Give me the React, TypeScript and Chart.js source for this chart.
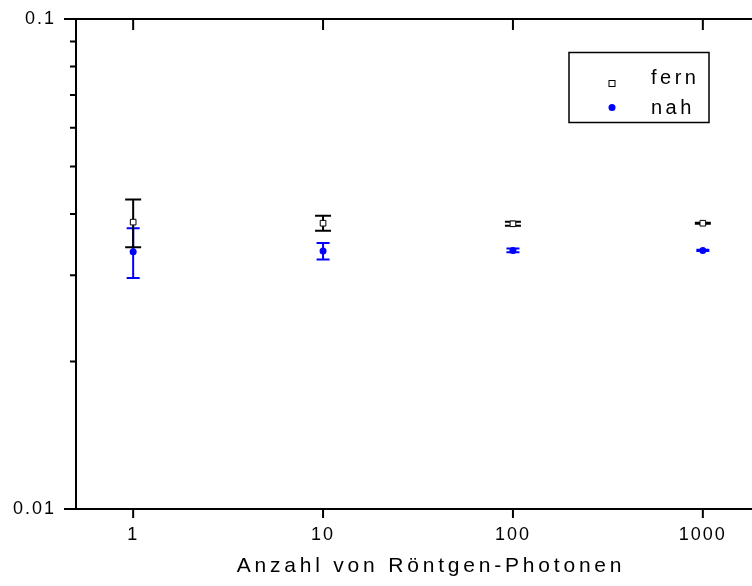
import React, { useEffect, useRef } from 'react';
import { Chart, registerables } from 'chart.js';

Chart.register(...registerables);

// Measured points: photon count vs. value, with symmetric error bars
const photons = [1, 10, 100, 1000];
const fernValues = [0.0385, 0.0383, 0.0382, 0.0383];
const fernErrors = [0.0043, 0.00135, 0.00035, 0.0001];
const nahValues = [0.0335, 0.0336, 0.0337, 0.0337];
const nahErrors = [0.0039, 0.0013, 0.0003, 0.0001];

const seriesLabels = ['fern', 'nah'];
const xTickLabels = ['1', '10', '100', '1000'];
const yTickLabels = ['0.01', '0.1'];
const xAxisTitle = 'Anzahl von Röntgen-Photonen';

const FONT = '"Liberation Sans", Arial, Helvetica, sans-serif';
const BLUE = '#0000ff';
const BLACK = '#000000';
const W = 775;
const H = 586;

const labelFor = (labels: string[]) => (value: number) => {
  const hit = labels.find((l) => Math.abs(Number(l) - value) < Number(l) * 1e-6);
  return hit ?? '';
};

// 1..9 times each power of ten inside [min, max]
const logTickValues = (min: number, max: number) => {
  const out: { value: number; major: boolean }[] = [];
  for (let e = Math.floor(Math.log10(min)); e <= Math.ceil(Math.log10(max)); e++) {
    for (let k = 1; k <= 9; k++) {
      const v = k * Math.pow(10, e);
      if (v >= min * (1 - 1e-9) && v <= max * (1 + 1e-9)) out.push({ value: v, major: k === 1 });
    }
  }
  return out;
};

// Tick labels get a little extra tracking
const trackingPlugin = {
  id: 'tracking',
  beforeDraw(chart: any) {
    chart.ctx.letterSpacing = '2px';
  },
  afterDraw(chart: any) {
    chart.ctx.letterSpacing = '0px';
  },
};

// Vertical error bars with caps, drawn underneath the point markers
const errorBarPlugin = {
  id: 'errorBars',
  beforeDatasetsDraw(chart: any) {
    const { ctx } = chart;
    const xs = chart.scales.x;
    const ys = chart.scales.y;
    const order = [1, 0];
    ctx.save();
    ctx.lineWidth = 2;
    for (const di of order) {
      const ds = chart.data.datasets[di];
      const errs: number[] = ds.errorValues;
      const cap: number = ds.capHalfWidth;
      ctx.strokeStyle = ds.errorColor;
      ds.data.forEach((pt: any, i: number) => {
        const px = xs.getPixelForValue(pt.x);
        const top = ys.getPixelForValue(pt.y + errs[i]);
        const bot = ys.getPixelForValue(pt.y - errs[i]);
        ctx.beginPath();
        ctx.moveTo(px, top);
        ctx.lineTo(px, bot);
        ctx.moveTo(px - cap, top);
        ctx.lineTo(px + cap, top);
        ctx.moveTo(px - cap, bot);
        ctx.lineTo(px + cap, bot);
        ctx.stroke();
      });
    }
    ctx.restore();
  },
};

// Top axis line and tick marks (outward on left/bottom, inward on top)
const framePlugin = {
  id: 'frame',
  afterDraw(chart: any) {
    const { ctx, chartArea } = chart;
    const xs = chart.scales.x;
    const ys = chart.scales.y;
    ctx.save();
    ctx.strokeStyle = BLACK;
    ctx.lineWidth = 2;
    ctx.beginPath();
    ctx.moveTo(chartArea.left - 12, chartArea.top);
    ctx.lineTo(W, chartArea.top);
    for (const t of logTickValues(ys.min, ys.max)) {
      const py = ys.getPixelForValue(t.value);
      const len = t.major ? 12 : 6;
      ctx.moveTo(chartArea.left - len, py);
      ctx.lineTo(chartArea.left, py);
    }
    for (const l of xTickLabels) {
      const px = xs.getPixelForValue(Number(l));
      ctx.moveTo(px, chartArea.bottom);
      ctx.lineTo(px, chartArea.bottom + 9);
      ctx.moveTo(px, chartArea.top);
      ctx.lineTo(px, chartArea.top + 11);
    }
    ctx.stroke();
    ctx.restore();
  },
};

// Axis title below the x tick labels
const axisTitlePlugin = {
  id: 'axisTitle',
  afterDraw(chart: any) {
    const { ctx } = chart;
    ctx.save();
    ctx.letterSpacing = '3.8px';
    ctx.font = `21px ${FONT}`;
    ctx.fillStyle = BLACK;
    ctx.textAlign = 'center';
    ctx.textBaseline = 'middle';
    ctx.fillText(xAxisTitle, 431, 566);
    ctx.restore();
  },
};

// Boxed legend in the upper right of the plot
const legendBoxPlugin = {
  id: 'legendBox',
  afterDraw(chart: any) {
    const { ctx } = chart;
    const left = 569;
    const top = 52.5;
    const width = 140;
    const height = 70;
    ctx.save();
    ctx.strokeStyle = BLACK;
    ctx.lineWidth = 1.5;
    ctx.strokeRect(left, top, width, height);

    const markerX = 612;
    const textX = 651;
    const rows = [
      { markerY: 83.5, baseY: 83.5 },
      { markerY: 107.5, baseY: 113.5 },
    ];
    chart.data.datasets.forEach((ds: any, i: number) => {
      const r = rows[i];
      if (ds.pointStyle === 'rect') {
        ctx.fillStyle = '#ffffff';
        ctx.fillRect(markerX - 3, r.markerY - 3, 6, 6);
        ctx.strokeStyle = BLACK;
        ctx.lineWidth = 1;
        ctx.strokeRect(markerX - 3, r.markerY - 3, 6, 6);
      } else {
        ctx.fillStyle = ds.backgroundColor;
        ctx.beginPath();
        ctx.arc(markerX, r.markerY, 3.5, 0, Math.PI * 2);
        ctx.fill();
      }
      ctx.letterSpacing = '3.5px';
      ctx.font = `20px ${FONT}`;
      ctx.fillStyle = BLACK;
      ctx.textAlign = 'left';
      ctx.textBaseline = 'alphabetic';
      ctx.fillText(ds.label, textX, r.baseY);
    });
    ctx.restore();
  },
};

export default function App() {
  const canvasRef = useRef<HTMLCanvasElement>(null);

  useEffect(() => {
    const canvas = canvasRef.current;
    if (!canvas) return;

    const chart = new Chart(canvas, {
      type: 'scatter',
      data: {
        datasets: [
          {
            label: seriesLabels[0],
            data: photons.map((x, i) => ({ x, y: fernValues[i] })),
            pointStyle: 'rect',
            pointRadius: 4,
            backgroundColor: '#ffffff',
            borderColor: BLACK,
            borderWidth: 1,
            errorValues: fernErrors,
            errorColor: BLACK,
            capHalfWidth: 8,
          } as any,
          {
            label: seriesLabels[1],
            data: photons.map((x, i) => ({ x, y: nahValues[i] })),
            pointStyle: 'circle',
            pointRadius: 3.5,
            backgroundColor: BLUE,
            borderColor: BLUE,
            borderWidth: 0,
            errorValues: nahErrors,
            errorColor: BLUE,
            capHalfWidth: 6.5,
          } as any,
        ],
      },
      options: {
        responsive: false,
        animation: false,
        devicePixelRatio: 1,
        events: [],
        layout: { padding: { left: 0, top: 19, right: W - 760, bottom: 0 } },
        plugins: {
          legend: { display: false },
          tooltip: { enabled: false },
          title: { display: false },
        },
        scales: {
          x: {
            type: 'logarithmic',
            position: 'bottom',
            min: 0.5,
            max: 2000,
            grid: { display: false, drawTicks: false },
            border: { display: true, color: BLACK, width: 2 },
            ticks: {
              autoSkip: false,
              maxRotation: 0,
              minRotation: 0,
              padding: 15,
              color: BLACK,
              font: { family: FONT, size: 18 },
              callback: labelFor(xTickLabels) as any,
            },
            afterFit: (s: any) => {
              s.height = 77;
              s.paddingLeft = 0;
              s.paddingRight = 0;
            },
          },
          y: {
            type: 'logarithmic',
            position: 'left',
            min: 0.01,
            max: 0.1,
            grid: { display: false, drawTicks: false },
            border: { display: true, color: BLACK, width: 2 },
            ticks: {
              autoSkip: false,
              padding: 20,
              color: BLACK,
              font: { family: FONT, size: 18 },
              callback: labelFor(yTickLabels) as any,
            },
            afterFit: (s: any) => {
              s.width = 76;
              s.paddingTop = 0;
              s.paddingBottom = 0;
            },
          },
        },
      },
      plugins: [trackingPlugin, errorBarPlugin, framePlugin, axisTitlePlugin, legendBoxPlugin],
    });

    return () => chart.destroy();
  }, []);

  return (
    <div
      style={{
        position: 'absolute',
        left: 0,
        top: 0,
        width: 752,
        height: 586,
        overflow: 'hidden',
        background: '#ffffff',
      }}
    >
      <canvas ref={canvasRef} width={W} height={H} style={{ display: 'block', width: W, height: H }} />
    </div>
  );
}
